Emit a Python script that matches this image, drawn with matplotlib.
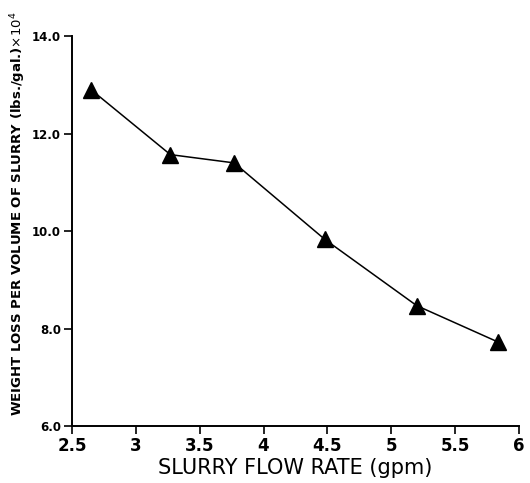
import matplotlib.pyplot as plt

# Slurry flow rate (gpm) vs weight loss per volume of slurry (lbs./gal. x 10^4)
flow_rate = [2.65, 3.27, 3.77, 4.48, 5.20, 5.84]
weight_loss = [12.9, 11.57, 11.4, 9.83, 8.47, 7.72]

x_ticks = [2.5, 3, 3.5, 4, 4.5, 5, 5.5, 6]
x_tick_labels = ['2.5', '3', '3.5', '4', '4.5', '5', '5.5', '6']
y_ticks = [6.0, 8.0, 10.0, 12.0, 14.0]
y_tick_labels = ['6.0', '8.0', '10.0', '12.0', '14.0']

fig = plt.figure(figsize=(5.3, 4.83), dpi=100)
ax = fig.add_axes([0.136, 0.118, 0.843, 0.807])

ax.plot(flow_rate, weight_loss, color='black', linewidth=1.1, marker='^',
        markersize=11, markerfacecolor='black', markeredgecolor='black',
        clip_on=False)

ax.set_xlim(2.5, 6)
ax.set_ylim(6, 14)
ax.set_xticks(x_ticks)
ax.set_xticklabels(x_tick_labels, fontsize=12, fontweight='bold')
ax.set_yticks(y_ticks)
ax.set_yticklabels(y_tick_labels, fontsize=8.5, fontweight='bold')

for side in ['top', 'right']:
    ax.spines[side].set_visible(False)
ax.spines['left'].set_linewidth(1.4)
ax.spines['bottom'].set_linewidth(1.4)
ax.tick_params(direction='out', length=6, width=1.2, pad=2)

ax.set_xlabel('SLURRY FLOW RATE (gpm)', fontsize=15, labelpad=2)
ax.set_ylabel(r'WEIGHT LOSS PER VOLUME OF SLURRY (lbs./gal.)$\times10^4$',
              fontsize=9.5, fontweight='bold')
ax.yaxis.set_label_coords(-0.098, 0.545)

fig.savefig('out.png', dpi=100)
